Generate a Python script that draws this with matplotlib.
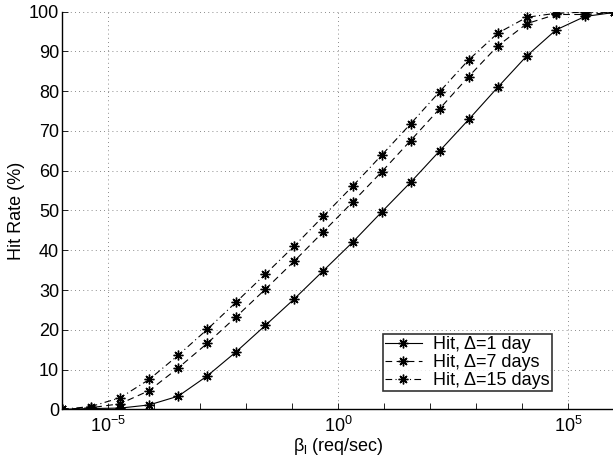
import numpy as np
import matplotlib
matplotlib.use("Agg")
import matplotlib.pyplot as plt
from matplotlib.ticker import FixedLocator, NullFormatter

plt.rcParams["font.family"] = ["Liberation Sans", "DejaVu Sans"]
plt.rcParams["mathtext.fontset"] = "custom"
plt.rcParams["mathtext.rm"] = "Liberation Sans"
plt.rcParams["mathtext.it"] = "Liberation Sans:italic"

# arrival rate (req/sec), 20 points over 12 decades
beta = np.logspace(-6, 6, 20)

hit_1day = [0.0, 0.2, 0.3, 1.1, 3.3, 8.4, 14.5, 21.1, 27.8, 34.9,
            42.0, 49.6, 57.1, 65.0, 72.9, 81.0, 88.9, 95.4, 98.8, 99.8]
hit_7days = [0.0, 0.4, 1.4, 4.7, 10.4, 16.6, 23.3, 30.2, 37.3, 44.7,
             52.1, 59.7, 67.6, 75.6, 83.7, 91.4, 97.0, 99.3, 99.3, 99.8]
hit_15days = [0.0, 0.7, 2.9, 7.5, 13.6, 20.1, 27.0, 34.0, 41.1, 48.6,
              56.1, 63.9, 71.8, 79.9, 87.9, 94.6, 98.6, 99.6, 99.9, 99.8]

labels = ["Hit, \u0394=1 day", "Hit, \u0394=7 days", "Hit, \u0394=15 days"]

fig = plt.figure(figsize=(6.13, 4.62), dpi=100)
ax = fig.add_axes([62 / 613, 1 - 409.3 / 462, 552 / 613, 397.6 / 462])

fs = 13
mk = (8, 2, 0)  # asterisk like matlab '*'
ms = 7
lw = 0.8
ax.plot(beta, hit_1day, "k-", marker=mk, ms=ms, mew=1.0, lw=lw, label=labels[0])
ax.plot(beta, hit_7days, "k", ls=(0, (6, 4)), marker=mk, ms=ms, mew=1.0, lw=lw, label=labels[1])
ax.plot(beta, hit_15days, "k", ls=(0, (6, 3, 1, 3)), marker=mk, ms=ms, mew=1.0, lw=lw, label=labels[2])

ax.set_xscale("log")
ax.set_xlim(1e-6, 1e6)
ax.set_ylim(0, 100)
ax.set_yticks(np.arange(0, 101, 10))
ax.xaxis.set_major_locator(FixedLocator([1e-5, 1e0, 1e5]))
ax.xaxis.set_minor_locator(FixedLocator([10.0 ** k for k in range(-6, 7)]))
ax.xaxis.set_minor_formatter(NullFormatter())
ax.set_xticklabels(["$10^{-5}$", "$10^{0}$", "$10^{5}$"])

ax.grid(True, which="major", ls=(0, (1, 4)), color="0.4", lw=0.6)
ax.tick_params(which="both", direction="in", labelsize=fs, length=4, width=0.6)
ax.tick_params(axis="x", pad=5)
ax.tick_params(axis="y", pad=2)

for side in ["top", "right"]:
    ax.spines[side].set_visible(False)
for side in ["left", "bottom"]:
    ax.spines[side].set_linewidth(1.0)

ax.set_xlabel(r"$\mathrm{\beta_l}$ (req/sec)", fontsize=fs, labelpad=0)
ax.set_ylabel("Hit Rate (%)", fontsize=fs, labelpad=3)

# legend box anchored where the reference has it
leg = ax.legend(loc="lower left", bbox_to_anchor=((382.7 - 62) / 552, (409.3 - 390.7) / 397.6),
                frameon=True, fancybox=False, edgecolor="black", fontsize=fs,
                handlelength=2.1, handletextpad=0.6, borderpad=0.1, labelspacing=0.05,
                borderaxespad=0)
leg.get_frame().set_linewidth(1.2)

fig.savefig("out.png", dpi=100)
